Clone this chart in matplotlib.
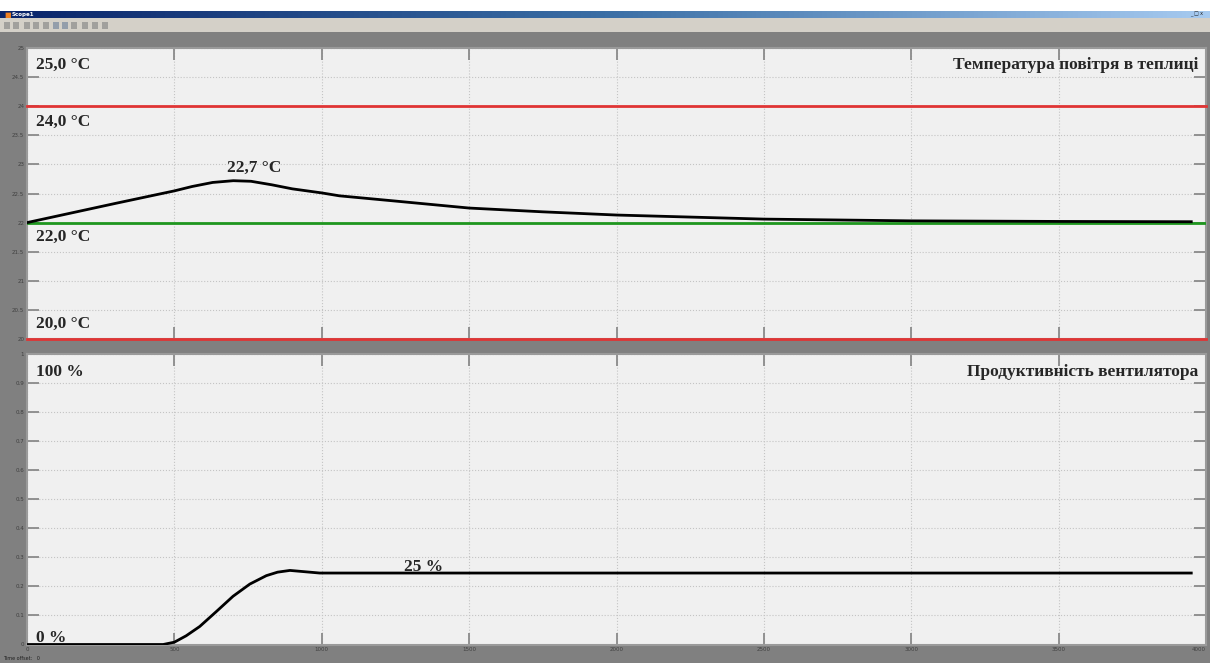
import numpy as np
import matplotlib.pyplot as plt
from matplotlib.patches import Rectangle
from matplotlib.colors import LinearSegmentedColormap

# Температура повітря (°C) по часу моделювання
t_temp = [0, 100, 200, 300, 430, 500, 560, 630, 700, 760, 830, 900, 1000, 1060,
          1250, 1500, 1750, 2000, 2500, 3000, 3500, 3950]
temp = [22.0, 22.11, 22.22, 22.33, 22.47, 22.545, 22.62, 22.69, 22.72, 22.71,
        22.65, 22.58, 22.51, 22.46, 22.37, 22.25, 22.185, 22.13, 22.06, 22.03,
        22.02, 22.015]

# Продуктивність вентилятора (частка від 1)
t_fan = [0, 462, 500, 540, 586, 643, 699, 756, 812, 850, 892, 948, 993, 1000, 3950]
fan = [0, 0, 0.008, 0.03, 0.062, 0.114, 0.166, 0.208, 0.237, 0.249, 0.255,
       0.250, 0.246, 0.246, 0.246]

limit_lines = [24.0, 20.0]   # червоні межі
setpoint = 22.0               # зелена уставка
temp_ticks = [20, 20.5, 21, 21.5, 22, 22.5, 23, 23.5, 24, 24.5, 25]
fan_ticks = [0, 0.1, 0.2, 0.3, 0.4, 0.5, 0.6, 0.7, 0.8, 0.9, 1]
time_ticks = [0, 500, 1000, 1500, 2000, 2500, 3000, 3500, 4000]

W, H = 1210, 663
fig = plt.figure(figsize=(W / 100, H / 100), dpi=100, facecolor='#808080')

def fx(px):
    return px / W

def fy(py):
    return 1 - py / H

# шапка вікна
fig.patches.append(Rectangle((0, fy(11)), 1, 11 / H, transform=fig.transFigure,
                             facecolor='white', edgecolor='none'))
fig.patches.append(Rectangle((0, fy(32)), 1, 14 / H, transform=fig.transFigure,
                             facecolor='#d4d0c8', edgecolor='none'))
bar = fig.add_axes([0, fy(18), 1, 7 / H])
grad = np.linspace(0, 1, 256)[None, :]
cm = LinearSegmentedColormap.from_list('tb', ['#0a246a', '#3a6ea5', '#a6caf0'])
bar.imshow(grad, aspect='auto', cmap=cm, extent=[0, 1, 0, 1])
bar.set_axis_off()
fig.text(fx(4), fy(14.5), '\u25a0', color='#f08020', fontsize=5, va='center')
fig.text(fx(12), fy(14.5), 'Scope1', color='white', fontsize=4, weight='bold', va='center')
fig.text(fx(1190), fy(14.5), '_ \u25a1 x', color='#202020', fontsize=3.5, va='center')
icon_x = [4, 13, 24, 33, 43, 53, 62, 71, 82, 92, 102]
for i, x in enumerate(icon_x):
    c = '#7a8aa0' if i in (5, 6) else '#8c8c8c'
    fig.patches.append(Rectangle((fx(x), fy(29)), 6 / W, 7 / H, transform=fig.transFigure,
                                 facecolor=c, edgecolor='none', alpha=0.7))
fig.text(fx(3), fy(659), 'Time offset:   0', color='#202020', fontsize=3.5, va='center')

left, right = 27, 1206
ax1 = fig.add_axes([fx(left), fy(339), fx(right - left), 291 / H])
ax2 = fig.add_axes([fx(left), fy(644.5), fx(right - left), 290.5 / H])

label_font = dict(family=['Liberation Serif', 'DejaVu Serif'], weight='bold',
                  fontsize=12.5, color='#262626')

for ax in (ax1, ax2):
    ax.set_facecolor('#f0f0f0')
    ax.set_xlim(0, 4000)
    ax.set_xticks(time_ticks)
    ax.grid(True, color='#c4c4c4', linestyle=':', linewidth=0.8)
    ax.tick_params(direction='in', length=8.5, width=1.3, color='#8a8a8a',
                   labelsize=4, labelcolor='#404040', pad=2,
                   top=True, right=True)
    for s in ax.spines.values():
        s.set_color('#9a9a9a')
        s.set_linewidth(1.5)

# верхній графік: температура
for v in limit_lines:
    ax1.axhline(v, color='#e03434', linewidth=2, zorder=3, clip_on=False)
ax1.axhline(setpoint, color='#1e961e', linewidth=2, zorder=3)
ax1.plot(t_temp, temp, color='black', linewidth=2, zorder=4)
ax1.set_ylim(20, 25)
ax1.set_yticks(temp_ticks)
ax1.set_yticklabels([f'{v:g}' for v in temp_ticks])
ax1.set_xticklabels([])

ax1.text(30, 24.64, '25,0 °C', va='baseline', **label_font)
ax1.text(30, 23.66, f'{limit_lines[0]:.1f} °C'.replace('.', ','), va='baseline', **label_font)
ax1.text(30, 21.68, f'{setpoint:.1f} °C'.replace('.', ','), va='baseline', **label_font)
ax1.text(30, 20.19, f'{limit_lines[1]:.1f} °C'.replace('.', ','), va='baseline', **label_font)
i_peak = int(np.argmax(temp))
ax1.text(t_temp[i_peak] + 70, 22.87, f'{temp[i_peak]:.1f} °C'.replace('.', ','),
         ha='center', va='baseline', **label_font)
ax1.text(3975, 24.64, 'Температура повітря в теплиці', ha='right', va='baseline', **label_font)

# нижній графік: вентилятор
ax2.plot(t_fan, fan, color='black', linewidth=2, zorder=4)
ax2.set_ylim(0, 1)
ax2.set_yticks(fan_ticks)
ax2.set_yticklabels([f'{v:g}' for v in fan_ticks])
ax2.set_xticklabels([str(v) for v in time_ticks])
ax2.get_xticklabels()[-1].set_horizontalalignment('right')

ax2.text(30, 0.924, '100 %', va='baseline', **label_font)
ax2.text(30, 0.009, '0 %', va='baseline', **label_font)
ax2.text(1346, 0.253, f'{fan[-1] * 100:.0f} %', ha='center', va='baseline', **label_font)
ax2.text(3975, 0.924, 'Продуктивність вентилятора', ha='right', va='baseline', **label_font)

fig.savefig('out.png', dpi=100, facecolor=fig.get_facecolor())
